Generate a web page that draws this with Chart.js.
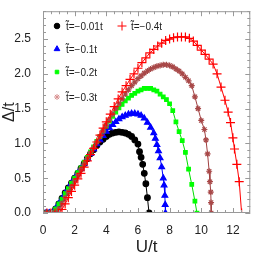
<!DOCTYPE html>
<html>
<head>
<meta charset="utf-8">
<script src="https://cdn.jsdelivr.net/npm/chart.js@4/dist/chart.umd.min.js"></script>
<style>
  body { margin: 0; background: #fff; }
  #wrap { width: 256px; height: 256px; }
</style>
</head>
<body>
<div id="wrap"><canvas id="myChart" width="256" height="256"></canvas></div>
<script>
// U/t values and gap Delta/t for each t~ value
const labels = ['t\u0303=\u22120.01t', 't\u0303=\u22120.1t', 't\u0303=\u22120.2t', 't\u0303=\u22120.3t', 't\u0303=\u22120.4t'];

const uA = [0, 0.2, 0.4, 0.6, 0.8, 1.0, 1.2, 1.4, 1.6, 1.8, 2.0, 2.2, 2.4, 2.6, 2.8, 3.0, 3.2, 3.4, 3.6, 3.8, 4.0, 4.2, 4.4, 4.6, 4.8, 5.0, 5.2, 5.4, 5.6, 5.8, 6.0, 6.1, 6.2, 6.3, 6.4, 6.5, 6.6, 6.7];
const gA = [0, 0, 0, 0, 0.06, 0.13, 0.21, 0.29, 0.36, 0.43, 0.5, 0.57, 0.64, 0.71, 0.78, 0.85, 0.91, 0.97, 1.02, 1.06, 1.1, 1.13, 1.15, 1.16, 1.165, 1.16, 1.15, 1.13, 1.1, 1.05, 0.99, 0.88, 0.8, 0.7, 0.57, 0.42, 0.22, 0];

const uB = [0, 0.2, 0.4, 0.6, 0.8, 1.0, 1.2, 1.4, 1.6, 1.8, 2.0, 2.2, 2.4, 2.6, 2.8, 3.0, 3.2, 3.4, 3.6, 3.8, 4.0, 4.2, 4.4, 4.6, 4.8, 5.0, 5.2, 5.4, 5.6, 5.8, 6.0, 6.2, 6.4, 6.6, 6.8, 7.0, 7.1, 7.2, 7.3, 7.4, 7.5, 7.6, 7.65, 7.7, 7.72, 7.74];
const gB = [0, 0, 0, 0, 0.06, 0.13, 0.2, 0.28, 0.35, 0.43, 0.5, 0.57, 0.64, 0.71, 0.78, 0.85, 0.92, 0.99, 1.05, 1.11, 1.17, 1.22, 1.27, 1.31, 1.35, 1.38, 1.4, 1.42, 1.43, 1.43, 1.42, 1.4, 1.36, 1.3, 1.23, 1.15, 1.07, 0.98, 0.89, 0.79, 0.66, 0.5, 0.4, 0.25, 0.12, 0];

const uC = [0, 0.2, 0.4, 0.6, 0.8, 1.0, 1.2, 1.4, 1.6, 1.8, 2.0, 2.2, 2.4, 2.6, 2.8, 3.0, 3.2, 3.4, 3.6, 3.8, 4.0, 4.2, 4.4, 4.6, 4.8, 5.0, 5.2, 5.4, 5.6, 5.8, 6.0, 6.2, 6.4, 6.6, 6.8, 7.0, 7.2, 7.4, 7.6, 7.8, 8.0, 8.2, 8.4, 8.6, 8.8, 9.0, 9.2, 9.4, 9.6, 9.73];
const gC = [0, 0, 0, 0, 0.06, 0.13, 0.2, 0.28, 0.35, 0.43, 0.5, 0.58, 0.65, 0.73, 0.8, 0.88, 0.95, 1.03, 1.1, 1.18, 1.25, 1.32, 1.39, 1.45, 1.51, 1.56, 1.61, 1.65, 1.69, 1.72, 1.75, 1.77, 1.79, 1.79, 1.79, 1.77, 1.75, 1.71, 1.67, 1.63, 1.57, 1.47, 1.31, 1.17, 1.04, 0.87, 0.63, 0.41, 0.17, 0];

const uD = [0, 0.2, 0.4, 0.6, 0.8, 1.0, 1.2, 1.4, 1.6, 1.8, 2.0, 2.2, 2.4, 2.6, 2.8, 3.0, 3.2, 3.4, 3.6, 3.8, 4.0, 4.2, 4.4, 4.6, 4.8, 5.0, 5.2, 5.4, 5.6, 5.8, 6.0, 6.2, 6.4, 6.6, 6.8, 7.0, 7.2, 7.4, 7.6, 7.8, 8.0, 8.2, 8.4, 8.6, 8.8, 9.0, 9.2, 9.4, 9.6, 9.8, 10.0, 10.2, 10.3, 10.4, 10.5, 10.55, 10.6, 10.62, 10.63];
const gD = [0, 0, 0, 0, 0, 0.06, 0.14, 0.22, 0.3, 0.38, 0.46, 0.54, 0.62, 0.7, 0.78, 0.86, 0.94, 1.02, 1.1, 1.18, 1.26, 1.34, 1.42, 1.5, 1.57, 1.64, 1.71, 1.77, 1.83, 1.88, 1.93, 1.97, 2.01, 2.04, 2.07, 2.09, 2.11, 2.12, 2.13, 2.13, 2.12, 2.1, 2.07, 2.04, 2.0, 1.95, 1.9, 1.83, 1.67, 1.5, 1.33, 1.2, 1.05, 0.85, 0.6, 0.45, 0.3, 0.15, 0];

const uE = [0, 0.25, 0.5, 0.75, 1.0, 1.2, 1.4, 1.6, 1.8, 2.0, 2.2, 2.4, 2.6, 2.8, 3.0, 3.2, 3.4, 3.6, 3.8, 4.0, 4.25, 4.5, 4.75, 5.0, 5.25, 5.5, 5.75, 6.0, 6.25, 6.5, 6.75, 7.0, 7.25, 7.5, 7.75, 8.0, 8.25, 8.5, 8.75, 9.0, 9.25, 9.5, 9.75, 10.0, 10.25, 10.5, 10.75, 11.0, 11.25, 11.5, 11.7, 11.85, 12.0, 12.1, 12.25, 12.4, 12.55];
const gE = [0, 0, 0, 0, 0, 0.05, 0.13, 0.22, 0.31, 0.4, 0.49, 0.57, 0.66, 0.75, 0.84, 0.93, 1.02, 1.12, 1.22, 1.31, 1.42, 1.53, 1.64, 1.74, 1.83, 1.92, 2.0, 2.08, 2.16, 2.23, 2.3, 2.35, 2.4, 2.44, 2.48, 2.5, 2.52, 2.53, 2.53, 2.53, 2.51, 2.47, 2.41, 2.34, 2.28, 2.21, 2.14, 2.0, 1.81, 1.62, 1.45, 1.3, 1.08, 0.92, 0.7, 0.45, 0];

const xTicks = { min: 0, max: 13.1, step: 2, minor: 0.5 };
const yTicks = { min: 0, max: 2.9, step: 0.5, minor: 0.1 };

const pts = (u, g) => u.map((v, i) => ({ x: v, y: g[i] }));

const series = [
  { u: uA, g: gA, color: '#000000', line: '#000000', style: 'circle', r: 2.8, order: 4 },
  { u: uB, g: gB, color: '#0000ff', line: '#0000ff', style: 'triangle', r: 3.3, order: 3 },
  { u: uC, g: gC, color: '#00ff00', line: '#00dd00', style: 'rect', r: 2.5, order: 2 },
  { u: uD, g: gD, color: '#a84848', line: '#a04040', style: 'star', r: 3, order: 1 },
  { u: uE, g: gE, color: '#ff0000', line: '#ff0000', style: 'cross', r: 4.5, order: 0 },
];
const legendColors = ['#000000', '#0000ff', '#00ff00', '#d89090', '#ff0000'];

// inward ticks on all four sides + frame
const frame = {
  id: 'frame',
  afterDatasetsDraw(chart) {
    const { ctx, chartArea: a, scales: { x, y } } = chart;
    ctx.save();
    ctx.strokeStyle = '#999';
    ctx.lineWidth = 1;
    ctx.strokeRect(a.left + 0.5, a.top + 0.5, a.right - a.left - 1, a.bottom - a.top - 1);
    ctx.beginPath();
    for (let k = 0; k * xTicks.minor <= xTicks.max + 1e-9; k++) {
      const v = k * xTicks.minor;
      const len = (k % 4 === 0) ? 5 : 3;
      const px = Math.round(x.getPixelForValue(v)) + 0.5;
      ctx.moveTo(px, a.bottom); ctx.lineTo(px, a.bottom - len);
      ctx.moveTo(px, a.top); ctx.lineTo(px, a.top + len);
    }
    for (let k = 0; k * yTicks.minor <= yTicks.max + 1e-9; k++) {
      const v = k * yTicks.minor;
      const len = (k % 5 === 0) ? 5 : 3;
      const py = Math.round(y.getPixelForValue(v)) + 0.5;
      ctx.moveTo(a.left, py); ctx.lineTo(a.left + len, py);
      ctx.moveTo(a.right, py); ctx.lineTo(a.right - len, py);
    }
    ctx.stroke();

    // legend, two columns inside the plot
    const spots = [[57, 26], [57, 49], [57, 72], [57, 97], [122, 26]];
    ctx.font = '10px "Liberation Sans", Arial, sans-serif';
    ctx.textBaseline = 'middle';
    chart.data.datasets.forEach((ds, i) => {
      const [mx, my] = spots[i];
      const c = legendColors[i];
      ctx.fillStyle = c; ctx.strokeStyle = c;
      Chart.helpers.drawPoint(ctx, {
        pointStyle: ds.pointStyle, radius: ds.pointRadius, borderWidth: 1.3, rotation: 0
      }, mx, my);
      ctx.fillStyle = '#222';
      ctx.fillText(ds.label, mx + 9, my + 1);
    });
    ctx.restore();
  }
};

new Chart(document.getElementById('myChart'), {
  type: 'scatter',
  data: {
    datasets: series.map((s, i) => ({
      label: labels[i],
      data: pts(s.u, s.g),
      showLine: true,
      borderColor: s.line,
      borderWidth: 1,
      pointStyle: s.style,
      pointRadius: s.r,
      pointBackgroundColor: s.color,
      pointBorderColor: s.color,
      pointBorderWidth: 1.2,
      order: s.order
    }))
  },
  options: {
    responsive: false,
    animation: false,
    devicePixelRatio: 1,
    layout: { padding: { top: 3, right: 2, left: 0, bottom: 0 } },
    plugins: { legend: { display: false }, tooltip: { enabled: false } },
    scales: {
      x: {
        type: 'linear', min: xTicks.min, max: xTicks.max,
        grid: { display: false }, border: { display: false },
        ticks: { stepSize: xTicks.step, includeBounds: false, maxRotation: 0, padding: 2,
          color: '#222', font: { family: '"Liberation Sans", Arial', size: 12 } },
        title: { display: true, text: 'U/t', color: '#222', padding: { top: 0, bottom: -2 },
          font: { family: '"Liberation Sans", Arial', size: 17 } },
        afterFit(s) { s.height = 43; }
      },
      y: {
        type: 'linear', min: yTicks.min, max: yTicks.max,
        grid: { display: false }, border: { display: false },
        ticks: { stepSize: yTicks.step, includeBounds: false, padding: 4,
          color: '#222', font: { family: '"Liberation Sans", Arial', size: 12 },
          callback: v => v.toFixed(1) },
        title: { display: true, text: '\u0394/t', color: '#222', padding: 0,
          font: { family: '"Liberation Sans", Arial', size: 16 } },
        afterFit(s) { s.width = 43; }
      }
    }
  },
  plugins: [frame]
});
</script>
</body>
</html>
